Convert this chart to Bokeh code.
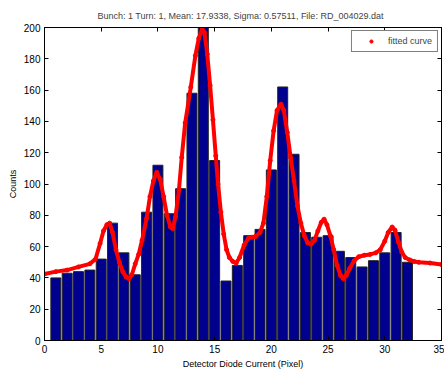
from bokeh.plotting import figure
from bokeh.models import LinearAxis, Range1d, FixedTicker, Legend, LegendItem
from bokeh.embed import file_html
from bokeh.resources import INLINE

# ---- data ----
pixels = list(range(1, 33))
counts = [40, 43, 44, 45, 52, 75, 56, 42, 82, 112, 81, 97, 158, 200, 115, 38,
          48, 67, 71, 109, 162, 119, 69, 66, 67, 57, 53, 47, 51, 56, 69, 50]

fit_x = [0, 1, 2, 3, 4, 4.5, 4.9, 5.2, 5.5, 5.75, 6.0, 6.3, 6.6, 6.9, 7.2, 7.45, 7.7,
         8.0, 8.3, 8.6, 9.0, 9.3, 9.6, 9.9, 10.2, 10.5, 10.8, 11.1, 11.3, 11.55, 11.85,
         12.1, 12.4, 12.9, 13.3, 13.6, 13.9, 14.1, 14.35, 14.6, 14.85, 15.1, 15.3, 15.55,
         15.8, 16.05, 16.3, 16.6, 16.9, 17.2, 17.6, 18.0, 18.3, 18.6, 19.0, 19.3, 19.6,
         19.9, 20.2, 20.5, 20.85, 21.1, 21.4, 21.7, 22.0, 22.3, 22.6, 22.9, 23.2, 23.5,
         23.8, 24.1, 24.4, 24.65, 24.9, 25.2, 25.5, 25.8, 26.1, 26.35, 26.6, 26.9, 27.3,
         27.7, 28.2, 28.7, 29.2, 29.6, 30.0, 30.3, 30.65, 30.9, 31.2, 31.5, 31.8, 32.2,
         32.6, 33, 34, 35]
fit_y = [42.5, 44, 45, 47, 49, 52, 62, 70, 74, 75, 69, 58, 50, 44, 40.5, 39.5, 42,
         49, 55, 64, 78, 92, 102, 107.5, 103, 92, 80, 72.5, 71.5, 79, 96,
         117, 139, 162, 182, 193, 199, 197, 183, 163, 141, 118, 100, 82,
         68, 58, 53, 50.5, 49.5, 53, 61, 65.5, 66, 66.5, 69, 75, 92,
         115, 134, 147, 151, 147, 133, 117, 102, 86, 75, 67, 62.5, 61.5,
         64, 70, 75.5, 77.5, 74, 67, 58, 48, 41.5, 39.5, 41.5, 46, 51,
         53.5, 54.5, 55, 56, 58, 63.5, 69, 72.5, 70.5, 63, 56.5, 53, 51.5,
         50.5, 50, 49.5, 48.5]

x_ticks = [0, 5, 10, 15, 20, 25, 30, 35]
y_ticks = [0, 20, 40, 60, 80, 100, 120, 140, 160, 180, 200]

title_text = "Bunch: 1 Turn: 1,  Mean: 17.9338,  Sigma: 0.57511, File: RD_004029.dat"
FONT = "Liberation Sans"

p = figure(width=444, height=374, output_backend="svg", toolbar_location=None,
           x_range=Range1d(0, 35), y_range=Range1d(0, 200),
           min_border_left=44, min_border_right=3, min_border_top=27,
           min_border_bottom=34, title=title_text)

p.title.text_font = FONT
p.title.text_font_size = "9px"
p.title.text_font_style = "normal"
p.title.align = "center"
p.title.standoff = 14

p.vbar(x=pixels, top=counts, width=0.88, fill_color="#00008F",
       line_color="#222222", line_width=1)

p.line(fit_x, fit_y, line_color="#FF0000", line_width=4)
pts = p.scatter(fit_x, fit_y, marker="circle", size=4, fill_color="#FF0000",
                line_color="#FF0000")

legend = Legend(items=[LegendItem(label="fitted curve", renderers=[pts])],
                location="top_right")
legend.label_text_font = FONT
legend.label_text_font_size = "9px"
legend.border_line_color = "black"
legend.border_line_width = 1
legend.padding = 5
legend.margin = 3
legend.glyph_width = 28
legend.glyph_height = 8
legend.label_height = 10
legend.label_standoff = 3
legend.spacing = 0
p.add_layout(legend)

p.xgrid.visible = False
p.ygrid.visible = False
p.outline_line_color = "black"
p.outline_line_width = 1
p.background_fill_color = "white"

for ax, ticks in ((p.xaxis[0], x_ticks), (p.yaxis[0], y_ticks)):
    ax.ticker = FixedTicker(ticks=ticks)
    ax.major_tick_in = 4
    ax.major_tick_out = 0
    ax.minor_tick_line_color = None
    ax.axis_line_color = "black"
    ax.major_tick_line_color = "black"
    ax.major_label_text_font = FONT
    ax.major_label_text_font_size = "10px"
    ax.major_label_text_color = "black"
    ax.major_label_standoff = 4
    ax.axis_label_text_font = FONT
    ax.axis_label_text_font_size = "9px"
    ax.axis_label_text_font_style = "normal"
    ax.axis_label_text_color = "black"
    ax.axis_label_standoff = 3

p.xaxis.axis_label = "Detector Diode Current (Pixel)"
p.yaxis.axis_label = "Counts"

top_ax = LinearAxis(ticker=FixedTicker(ticks=x_ticks), major_tick_in=4, major_tick_out=0,
                    minor_tick_line_color=None, major_label_text_font_size="1px",
                    major_label_text_color=None, major_label_standoff=0,
                    axis_line_color="black")
right_ax = LinearAxis(ticker=FixedTicker(ticks=y_ticks), major_tick_in=4, major_tick_out=0,
                      minor_tick_line_color=None, major_label_text_font_size="1px",
                      major_label_text_color=None, major_label_standoff=0,
                      axis_line_color="black")
p.add_layout(top_ax, "above")
p.add_layout(right_ax, "right")

open("out.html", "w").write(file_html(p, INLINE))
